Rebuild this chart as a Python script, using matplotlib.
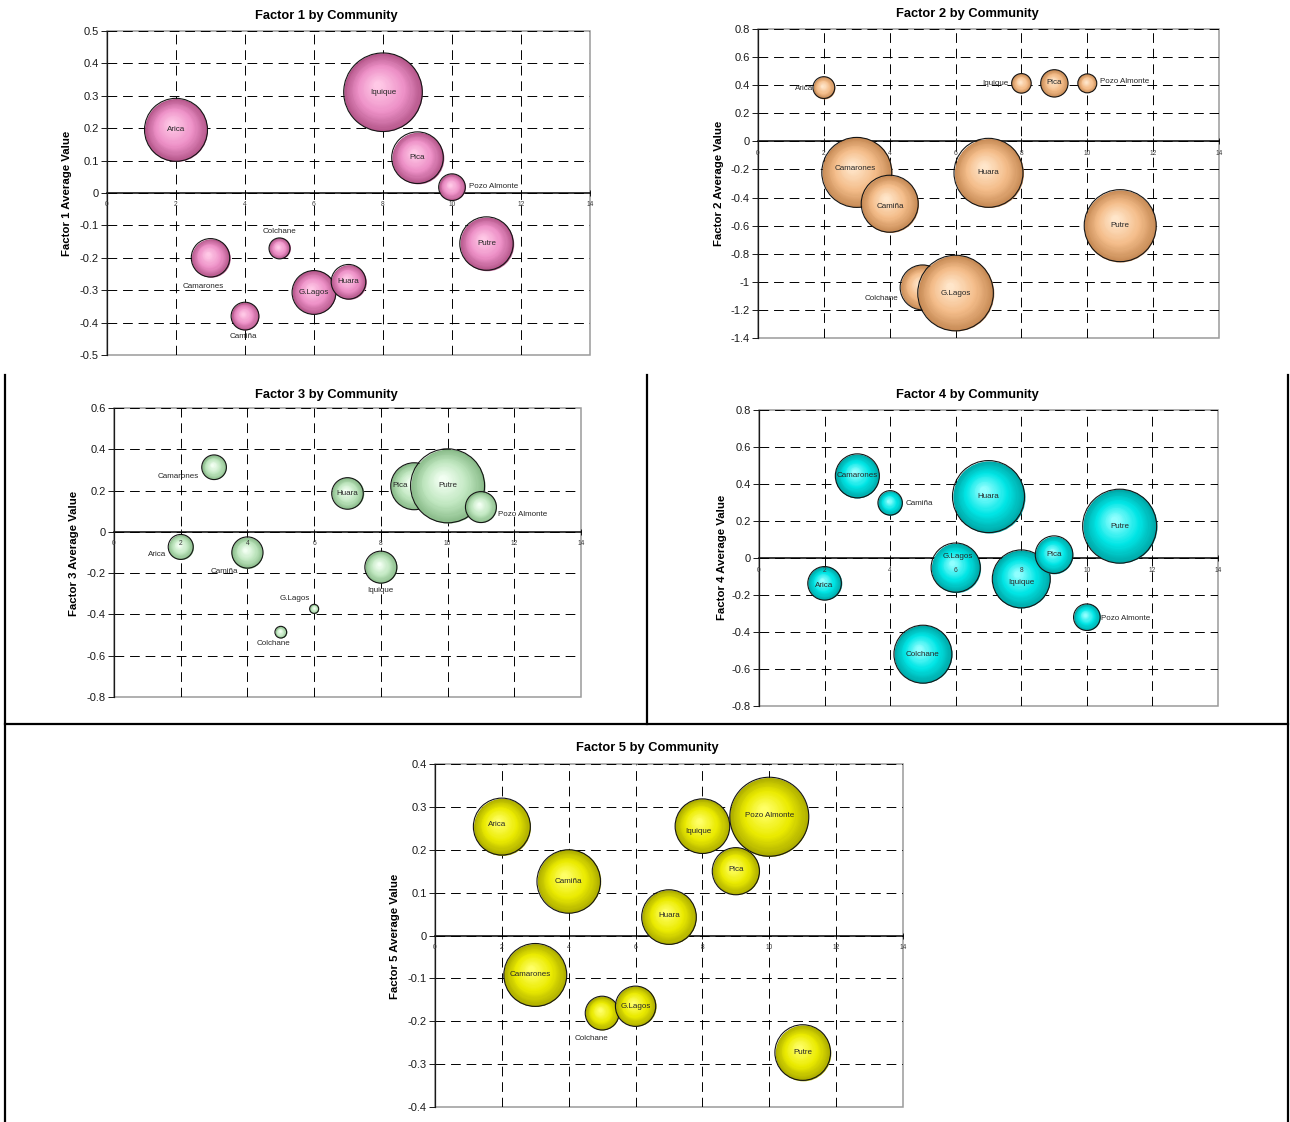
import matplotlib
matplotlib.use("Agg")
import numpy as np
import matplotlib.pyplot as plt
from matplotlib.transforms import offset_copy
from matplotlib.lines import Line2D
from matplotlib.patches import Rectangle
from matplotlib.colors import to_rgb

plt.rcParams["font.family"] = ["Liberation Sans", "DejaVu Sans"]

# ---------------------------------------------------------------- data
communities = ["Arica", "Camarones", "Camiña", "Colchane", "G.Lagos",
               "Huara", "Iquique", "Pica", "Pozo Almonte", "Putre"]

# horizontal position of each community in every chart
x_f1 = [2, 3, 4, 5, 6, 7, 8, 9, 10, 11]
x_f2 = [2, 3, 4, 5, 6, 7, 8, 9, 10, 11]
x_f3 = [2, 3, 4, 5, 6, 7, 8, 9, 11, 10]
x_f4 = [2, 3, 4, 5, 6, 7, 8, 9, 10, 11]
x_f5 = [2, 3, 4, 5, 6, 7, 8, 9, 10, 11]

# average factor value per community
y_f1 = [0.195, -0.200, -0.380, -0.171, -0.307, -0.274, 0.311, 0.109, 0.018, -0.156]
y_f2 = [0.383, -0.221, -0.444, -1.040, -1.080, -0.224, 0.413, 0.413, 0.413, -0.600]
y_f3 = [-0.073, 0.313, -0.100, -0.486, -0.373, 0.186, -0.171, 0.221, 0.120, 0.223]
y_f4 = [-0.137, 0.444, 0.298, -0.520, -0.052, 0.332, -0.113, 0.018, -0.320, 0.172]
y_f5 = [0.254, -0.092, 0.126, -0.181, -0.165, 0.043, 0.255, 0.150, 0.277, -0.273]

# bubble size (relative, largest bubble of each chart = 100)
s_f1 = [64.2, 23.9, 12.5, 7.1, 31.1, 19.4, 100.0, 43.1, 11.5, 46.2]
s_f2 = [8.3, 85.7, 56.8, 35.4, 100.0, 83.3, 6.7, 13.1, 6.3, 90.7]
s_f3 = [11.4, 11.1, 17.8, 2.5, 1.5, 18.2, 18.7, 40.3, 17.5, 100.0]
s_f4 = [20.6, 35.4, 10.9, 61.4, 44.2, 94.7, 61.4, 25.8, 12.9, 100.0]
s_f5 = [52.0, 63.4, 64.6, 18.3, 26.0, 47.8, 47.8, 35.6, 100.0, 49.6]

x_ticks = [0, 2, 4, 6, 8, 10, 12, 14]
y_ticks_f1 = [-0.5, -0.4, -0.3, -0.2, -0.1, 0, 0.1, 0.2, 0.3, 0.4, 0.5]
y_ticks_f2 = [-1.4, -1.2, -1, -0.8, -0.6, -0.4, -0.2, 0, 0.2, 0.4, 0.6, 0.8]
y_ticks_f3 = [-0.8, -0.6, -0.4, -0.2, 0, 0.2, 0.4, 0.6]
y_ticks_f4 = [-0.8, -0.6, -0.4, -0.2, 0, 0.2, 0.4, 0.6, 0.8]
y_ticks_f5 = [-0.4, -0.3, -0.2, -0.1, 0, 0.1, 0.2, 0.3, 0.4]

titles = ["Factor 1 by Community", "Factor 2 by Community", "Factor 3 by Community",
          "Factor 4 by Community", "Factor 5 by Community"]
y_titles = ["Factor 1 Average Value", "Factor 2 Average Value", "Factor 3 Average Value",
            "Factor 4 Average Value", "Factor 5 Average Value"]

# ---------------------------------------------------------------- layout
W, H, DPI = 1290, 1122, 100

# plot areas in pixels (left, top, right, bottom)
plot_px = [(107, 31, 590, 355), (758, 29, 1219, 338), (114, 408, 581, 697),
           (759, 410, 1218, 706), (435, 764, 903, 1107)]
title_px = [(326, 16), (967, 14), (326, 395), (967, 395), (647, 748)]
ylabel_px = [(67, 193), (719, 183), (74, 553), (722, 557), (395, 936)]
max_radius_px = [39.3, 37.8, 37.0, 37.0, 39.5]

# bubble shading: rim, body, highlight
palettes = [
    ("#b4568a", "#ee92c8", "#ffc8e6"),
    ("#c68a55", "#f4bd8a", "#ffe6ca"),
    ("#88ba88", "#c0e7c0", "#f2fff2"),
    ("#00a6a6", "#00e6e6", "#90ffff"),
    ("#acac00", "#ebeb00", "#ffff66"),
]

# data-label offsets in pixels (dx, dy, horizontal alignment)
label_pos = [
    {"Camarones": (-7, -29, "center"), "Camiña": (-2, -20, "center"),
     "Colchane": (0, 17, "center"), "Pozo Almonte": (17, 1, "left")},
    {"Arica": (-11, -1, "right"), "Camarones": (-2, 4, "center"),
     "Camiña": (1, -3, "center"), "Colchane": (-41, -11, "center"),
     "Iquique": (-13, 0, "right"), "Pica": (0, 1, "center"),
     "Pozo Almonte": (13, 2, "left")},
    {"Arica": (-24, -8, "center"), "Camarones": (-36, -9, "center"),
     "Camiña": (-23, -19, "center"), "Colchane": (-7, -11, "center"),
     "G.Lagos": (-19, 10, "center"), "Iquique": (0, -23, "center"),
     "Pica": (-14, 1, "center"), "Pozo Almonte": (17, -7, "left")},
    {"Arica": (0, -2, "center"), "Camiña": (15, -1, "left"),
     "G.Lagos": (2, 11, "center"), "Iquique": (0, -4, "center"),
     "Pozo Almonte": (14, -1, "left")},
    {"Arica": (-5, 2, "center"), "Camarones": (-5, 0, "center"),
     "Colchane": (-11, -25, "center"), "Huara": (0, 2, "center"),
     "Iquique": (-4, -5, "center"), "Pica": (0, 2, "center"),
     "Pozo Almonte": (0, 1, "center")},
]

xs = [x_f1, x_f2, x_f3, x_f4, x_f5]
ys = [y_f1, y_f2, y_f3, y_f4, y_f5]
ss = [s_f1, s_f2, s_f3, s_f4, s_f5]
yticks_all = [y_ticks_f1, y_ticks_f2, y_ticks_f3, y_ticks_f4, y_ticks_f5]

fig = plt.figure(figsize=(W / DPI, H / DPI), dpi=DPI)
fig.patch.set_facecolor("white")


def fx(px):
    return px / W


def fy(py):
    return 1 - py / H


def fmt(v):
    v = round(v, 1)
    return "0" if v == 0 else f"{v:g}"


def mix(c1, c2, t):
    a, b = np.array(to_rgb(c1)), np.array(to_rgb(c2))
    return tuple(a + (b - a) * t)


def shade(pal, t):
    rim, body, hi = pal
    if t < 0.45:
        return mix(rim, body, t / 0.45)
    return mix(body, hi, (t - 0.45) / 0.55)


def draw_bubble(ax, x, y, diam_pt, pal, z):
    n = 28
    for i in range(n):
        t = i / (n - 1)
        d = diam_pt * (1 - 0.9 * t)
        tr = offset_copy(ax.transData, fig=fig, x=-0.07 * diam_pt * t,
                         y=0.09 * diam_pt * t, units="points")
        ax.scatter([x], [y], s=d ** 2, color=[shade(pal, t)], linewidths=0,
                   transform=tr, zorder=z, clip_on=False)
    ax.scatter([x], [y], s=diam_pt ** 2, facecolors="none", edgecolors="#141414",
               linewidths=0.8, zorder=z + 0.001, clip_on=False)


for k in range(5):
    l, t, r, b = plot_px[k]
    ax = fig.add_axes([fx(l), fy(b), (r - l) / W, (b - t) / H])
    yt = yticks_all[k]
    ax.set_xlim(0, 14)
    ax.set_ylim(yt[0], yt[-1])
    ax.set_xticks(x_ticks)
    ax.set_yticks(yt)
    ax.set_yticklabels([fmt(v) for v in yt])
    ax.set_axisbelow(True)
    ax.grid(True, color="black", linewidth=0.7, linestyle=(0, (10, 6)))
    for side in ("top", "right"):
        ax.spines[side].set_visible(False)
    ax.spines["bottom"].set_position(("data", 0))
    ax.spines["bottom"].set_color("black")
    ax.spines["bottom"].set_linewidth(1.1)
    ax.spines["bottom"].set_zorder(1)
    ax.spines["left"].set_color("#1a1a1a")
    ax.spines["left"].set_linewidth(0.9)
    ax.tick_params(axis="y", direction="out", length=4, width=0.7,
                   labelsize=8, pad=2, colors="#1a1a1a")
    ax.tick_params(axis="x", direction="inout", length=4, width=0.6,
                   labelbottom=False)
    ax.add_patch(Rectangle((0, 0), 1, 1, transform=ax.transAxes, fill=False,
                           edgecolor="#9a9a9a", linewidth=1.1, zorder=0.4,
                           clip_on=False))

    # tick labels of the category axis, tucked under the zero line
    for v in x_ticks:
        ax.annotate(str(v), xy=(v, 0), xytext=(0, -12), textcoords="offset pixels",
                    ha="center", va="center", fontsize=4.8, color="#3a3a3a",
                    zorder=20, annotation_clip=False)

    x, y, s = xs[k], ys[k], ss[k]
    order = np.argsort(x, kind="stable")
    for j, i in enumerate(order):
        diam_pt = 2 * max_radius_px[k] * np.sqrt(s[i] / 100.0) * 72 / DPI
        draw_bubble(ax, x[i], y[i], diam_pt, palettes[k], 3 + j * 0.01)

    for i, name in enumerate(communities):
        dx, dy, ha = label_pos[k].get(name, (0, 0, "center"))
        ax.annotate(name, xy=(x[i], y[i]), xytext=(dx, dy), textcoords="offset pixels",
                    ha=ha, va="center", fontsize=5.8, color="#262626", zorder=30,
                    annotation_clip=False)

    tx, ty = title_px[k]
    fig.text(fx(tx), fy(ty), titles[k], ha="center", va="center",
             fontsize=9.3, fontweight="bold")
    lx, ly = ylabel_px[k]
    fig.text(fx(lx), fy(ly), y_titles[k], ha="center", va="center",
             rotation=90, fontsize=8.2, fontweight="bold")

# panel frame lines
frame = [((5, 375), (5, 1122)), ((647, 375), (647, 724)), ((1288, 375), (1288, 1122)),
         ((5, 724), (1288, 724))]
for (x0, y0), (x1, y1) in frame:
    fig.add_artist(Line2D([fx(x0), fx(x1)], [fy(y0), fy(y1)], color="black",
                          linewidth=1.6, transform=fig.transFigure))

fig.savefig("out.png", dpi=DPI, facecolor="white")
